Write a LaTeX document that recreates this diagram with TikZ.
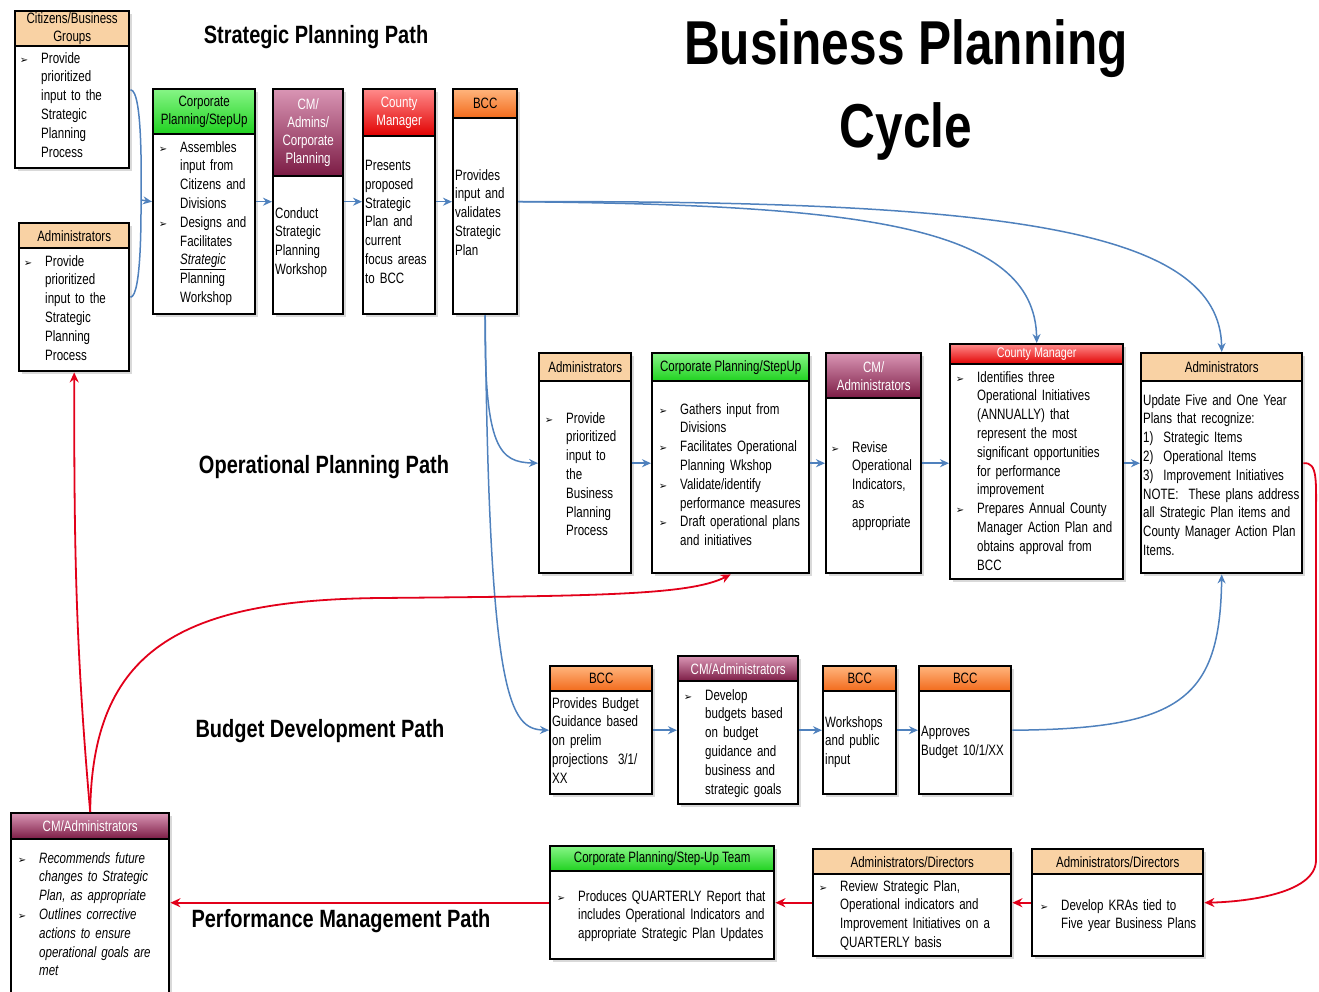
\documentclass[tikz,border=0pt]{standalone}
\usepackage{fontspec}
\setmainfont{Liberation Sans}[FakeStretch=0.8]
\newfontfamily\boxfont{Liberation Sans}[FakeStretch=0.77]
\newfontfamily\bulfont{DejaVu Sans}
\usetikzlibrary{arrows.meta,shadows,positioning}

\definecolor{flowblue}{HTML}{4F81BD}
\definecolor{loopred}{HTML}{E2001A}
\definecolor{peach}{HTML}{F9D2A4}
\definecolor{greentop}{HTML}{86F586}
\definecolor{greenbot}{HTML}{1FD11F}
\definecolor{maroontop}{HTML}{D995B4}
\definecolor{maroonbot}{HTML}{7B1B44}
\definecolor{redtop}{HTML}{FF8A8A}
\definecolor{redbot}{HTML}{E10000}
\definecolor{orangetop}{HTML}{FFB47C}
\definecolor{orangebot}{HTML}{F26A1B}

\newcommand{\bul}{\leavevmode\llap{\bulfont\upshape\fontsize{10}{10}\selectfont\char"27A2\hspace{13pt}}}

% box with title bar: name, x, y, width, height, bar height, bar style, title
\newcommand{\stage}[8]{%
  \node[card, minimum width=#4pt, minimum height=#5pt] (#1) at ( #2, -#3 ) {};
  \node[#7, minimum width=#4pt, minimum height=#6pt] (#1-h) at (#1.north west) {#8};
}

\tikzset{
  card/.style={draw=black, line width=2.4pt, fill=white, anchor=north west, inner sep=0pt,
    drop shadow={opacity=0.3, shadow xshift=2.5pt, shadow yshift=-2.5pt}},
  head/.style={draw=black, line width=2.4pt, anchor=north west, inner sep=0pt, align=center,
    font=\boxfont\fontsize{15}{18}\selectfont},
  peachbar/.style={head, fill=peach},
  greenbar/.style={head, top color=greentop, bottom color=greenbot},
  maroonbar/.style={head, top color=maroontop, bottom color=maroonbot, text=white},
  redbar/.style={head, top color=redtop, bottom color=redbot, text=white},
  orangebar/.style={head, top color=orangetop, bottom color=orangebot},
  body/.style={anchor=north west, inner sep=0pt, text width=200pt, align=left,
    font=\boxfont\fontsize{15}{18.8}\selectfont},
  pathtitle/.style={anchor=base, font=\bfseries\fontsize{25}{30}\selectfont},
  flowline/.style={draw=flowblue, line width=1.5pt},
  flow/.style={flowline, -{Stealth[length=9pt,width=8pt]}},
  feedback/.style={draw=loopred, line width=1.8pt, -{Stealth[length=10pt,width=9pt]}},
}

\begin{document}
\begin{tikzpicture}[x=1pt, y=1pt]
    \useasboundingbox ( 0, 0 ) rectangle ( 1319, -991 );

    % titles
    \node[anchor=north, align=center, font=\bfseries\fontsize{62}{83}\selectfont] (title) at ( 906, -16 ) {Business Planning\\Cycle};
    \node[pathtitle] (spLabel) at ( 316, -43 ) {Strategic Planning Path};
    \node[pathtitle] (opLabel) at ( 324, -473 ) {Operational Planning Path};
    \node[pathtitle] (bdLabel) at ( 320, -737 ) {Budget Development Path};
    \node[pathtitle] (pmLabel) at ( 341, -927 ) {Performance Management Path};

    % strategic planning
    \stage{cit}{14}{10}{114}{157}{35}{peachbar}{Citizens/Business\\Groups}
    \node[body] (cit-t) at ( 41, -52 ) {\bul Provide\\prioritized\\input to the\\Strategic\\Planning\\Process};
    \stage{admA}{18}{222}{110}{148}{25}{peachbar}{Administrators}
    \node[body] (admA-t) at ( 45, -255 ) {\bul Provide\\prioritized\\input to the\\Strategic\\Planning\\Process};
    \stage{spCorp}{152}{88}{102}{225}{45}{greenbar}{Corporate\\Planning/StepUp}
    \node[body] (spCorp-t) at ( 180, -141 ) {\bul Assembles\\input from\\Citizens and\\Divisions\\ \bul Designs and\\Facilitates\\\underline{\textit{Strategic}}\\Planning\\Workshop};
    \stage{spCM}{272}{88}{70}{225}{87}{maroonbar}{CM/\\Admins/\\Corporate\\Planning}
    \node[body] (spCM-t) at ( 275, -207 ) {Conduct\\Strategic\\Planning\\Workshop};
    \stage{spCty}{362}{88}{72}{225}{47}{redbar}{County\\Manager}
    \node[body] (spCty-t) at ( 365, -160 ) {Presents\\proposed\\Strategic\\Plan and\\current\\focus areas\\to BCC};
    \stage{spBCC}{452}{88}{64}{225}{29}{orangebar}{BCC}
    \node[body] (spBCC-t) at ( 455, -169 ) {Provides\\input and\\validates\\Strategic\\Plan};

    % operational planning
    \stage{opAdm}{538}{352}{92}{220}{28}{peachbar}{Administrators}
    \node[body] (opAdm-t) at ( 566, -412 ) {\bul Provide\\prioritized\\input to\\the\\Business\\Planning\\Process};
    \stage{opCorp}{651}{352}{157}{220}{28}{greenbar}{Corporate Planning/StepUp}
    \node[body] (opCorp-t) at ( 680, -403 ) {\bul Gathers input from\\Divisions\\ \bul Facilitates Operational\\Planning Wkshop\\ \bul Validate/identify\\performance measures\\ \bul Draft operational plans\\and initiatives};
    \stage{opCM}{825}{352}{95}{220}{45}{maroonbar}{CM/\\Administrators}
    \node[body] (opCM-t) at ( 852, -441 ) {\bul Revise\\Operational\\Indicators,\\as\\appropriate};
    \stage{opCty}{949}{343}{173}{235}{20}{redbar, font=\boxfont\fontsize{14}{14}\selectfont}{County Manager}
    \node[body] (opCty-t) at ( 977, -371 ) {\bul Identifies three\\Operational Initiatives\\(ANNUALLY) that\\represent the most\\significant opportunities\\for performance\\improvement\\ \bul Prepares Annual County\\Manager Action Plan and\\obtains approval from\\BCC};
    \stage{opAdm2}{1140}{352}{161}{220}{28}{peachbar}{Administrators}
    \node[body] (opAdm2-t) at ( 1143, -394 ) {Update Five and One Year\\Plans that recognize:\\1)\ \ Strategic Items\\2)\ \ Operational Items\\3)\ \ Improvement Initiatives\\NOTE:\ \ These plans address\\all Strategic Plan items and\\County Manager Action Plan\\Items.};

    % budget development
    \stage{bdBCC1}{549}{665}{102}{128}{25}{orangebar}{BCC}
    \node[body] (bdBCC1-t) at ( 552, -697 ) {Provides Budget\\Guidance based\\on prelim\\projections\ \ 3/1/\\XX};
    \stage{bdCM}{677}{655}{120}{148}{25}{maroonbar}{CM/Administrators}
    \node[body] (bdCM-t) at ( 705, -689 ) {\bul Develop\\budgets based\\on budget\\guidance and\\business and\\strategic goals};
    \stage{bdBCC2}{822}{665}{73}{128}{25}{orangebar}{BCC}
    \node[body] (bdBCC2-t) at ( 825, -716 ) {Workshops\\and public\\input};
    \stage{bdBCC3}{918}{665}{92}{128}{25}{orangebar}{BCC}
    \node[body] (bdBCC3-t) at ( 921, -726 ) {Approves\\Budget 10/1/XX};

    % performance management
    \stage{pmCM}{10}{812}{158}{182}{26}{maroonbar}{CM/Administrators}
    \node[body, font=\boxfont\itshape\fontsize{15}{18.8}\selectfont] (pmCM-t) at ( 39, -852 ) {\bul Recommends future\\changes to Strategic\\Plan, as appropriate\\ \bul Outlines corrective\\actions to ensure\\operational goals are\\met};
    \stage{pmCorp}{549}{845}{224}{113}{25}{greenbar}{Corporate Planning/Step-Up Team}
    \node[body] (pmCorp-t) at ( 578, -890 ) {\bul Produces QUARTERLY Report that\\includes Operational Indicators and\\appropriate Strategic Plan Updates};
    \stage{pmAD1}{812}{848}{198}{107}{25}{peachbar}{Administrators/Directors}
    \node[body] (pmAD1-t) at ( 840, -880 ) {\bul Review Strategic Plan,\\Operational indicators and\\Improvement Initiatives on a\\QUARTERLY basis};
    \stage{pmAD2}{1031}{848}{171}{107}{25}{peachbar}{Administrators/Directors}
    \node[body] (pmAD2-t) at ( 1061, -899 ) {\bul Develop KRAs tied to\\Five year Business Plans};

    % inputs -> strategic
    \coordinate (merge) at ( 141, -200 );
    \draw[flowline] (cit.east) to[out=0, in=90, looseness=0.3] (merge);
    \draw[flowline] (admA.east) to[out=0, in=-90, looseness=0.3] (merge);
    \draw[flow] (merge) -- (spCorp.west);
    \draw[flow] (spCorp.east) -- (spCM.west);
    \draw[flow] (spCM.east) -- (spCty.west);
    \draw[flow] (spCty.east) -- (spBCC.west);

    % strategic -> operational, budget
    \draw[flow] (spBCC.east) .. controls ( 860, -205 ) and ( 1035, -225 ) .. (opCty.north);
    \draw[flow] (spBCC.east) .. controls ( 1010, -200 ) and ( 1220, -230 ) .. (opAdm2.north);
    \draw[flow] (spBCC.south) .. controls ( 484, -450 ) and ( 500, -462 ) .. (opAdm.west);
    \draw[flow] (spBCC.south) .. controls ( 489, -700 ) and ( 510, -729 ) .. (bdBCC1.west);

    % operational
    \draw[flow] (opAdm.east) -- (opCorp.west);
    \draw[flow] (opCorp.east) -- (opCM.west);
    \draw[flow] (opCM.east) -- (opCM.east -| opCty.west);
    \draw[flow] (opAdm2.west -| opCty.east) -- (opAdm2.west);

    % budget
    \draw[flow] (bdBCC1.east) -- (bdCM.west);
    \draw[flow] (bdCM.east) -- (bdBCC2.west);
    \draw[flow] (bdBCC2.east) -- (bdBCC3.west);
    \draw[flow] (bdBCC3.east) .. controls ( 1180, -729 ) and ( 1220, -700 ) .. (opAdm2.south);

    % performance loop
    \draw[feedback] (opAdm2.east) .. controls ( 1318, -462 ) and ( 1316, -480 ) .. ( 1316, -520 ) -- ( 1316, -860 ) .. controls ( 1316, -895 ) and ( 1240, -902 ) .. (pmAD2.east);
    \draw[feedback] (pmAD2.west) -- (pmAD1.east);
    \draw[feedback] (pmAD1.west) -- (pmCorp.east);
    \draw[feedback] (pmCorp.west) -- (pmCorp.west -| pmCM.east);
    \draw[feedback] (pmCM.north) to[out=95, in=-90] (admA.south);
    \draw[feedback] (pmCM.north) .. controls ( 92, -650 ) and ( 180, -600 ) .. ( 380, -598 ) .. controls ( 600, -596 ) and ( 690, -595 ) .. (opCorp.south);
\end{tikzpicture}
\end{document}
